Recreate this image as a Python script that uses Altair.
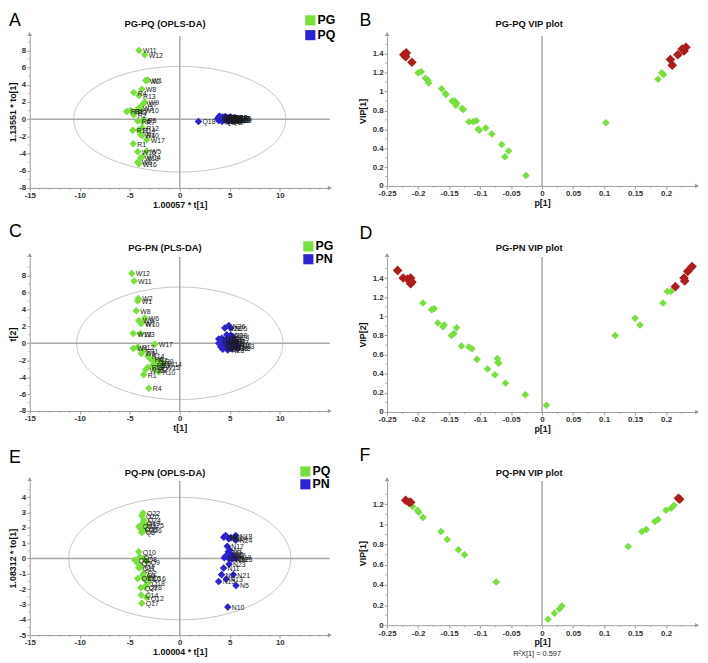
import altair as alt
import numpy as np
import pandas as pd

GREEN = "#77E03D"
BLUE = "#2B22D6"
RED = "#B01C1C"
AX = "#9c9c9c"
ZERO = "#a8a8a8"
FONT = "Liberation Sans"
LABEL = "replace(format(datum.value, '~g'), '\u2212', '-')"

# ---------------- Panel A : PG-PQ (OPLS-DA) ----------------
A_groups = ["PG", "PQ"]
A_g_names = ["W11", "W12", "W2", "W1", "W8", "R4", "R13", "W9", "W7", "W3", "R8", "R9", "R3", "R2", "W10", "R6",
             "R7", "R5", "R11", "R14", "R12", "W4", "R10", "W17", "R1", "W15", "W5", "W14", "W13", "W6", "W16"]
A_g_x = [-4.07, -3.5, -3.4, -3.2, -3.8, -4.6, -4.08, -3.5, -3.7, -4.1, -5.3, -4.9, -4.6, -4.6, -3.9, -4.2,
         -3.75, -3.6, -4.7, -4.1, -3.75, -3.9, -3.75, -3.3, -4.65, -4.2, -3.3, -3.7, -3.9, -4.2, -4.1]
A_g_y = [8.0, 7.5, 4.5, 4.55, 3.5, 3.1, 2.75, 2.0, 1.75, 1.3, 0.9, 1.0, 0.8, 0.53, 1.05, -0.2,
         -0.3, -0.1, -1.3, -1.25, -1.0, -1.8, -1.9, -2.4, -2.85, -3.8, -3.7, -4.35, -4.5, -5.0, -5.2]
A_b_names = ["Q18", "Q1", "Q2", "Q3", "Q4", "Q5", "Q6", "Q8", "Q9", "Q10", "Q11", "Q12", "Q13", "Q14", "Q15",
             "Q16", "Q17", "Q19", "Q20", "Q7", "Q21", "Q22", "Q23", "Q24", "Q25", "Q26", "Q27", "Q28", "Q29", "Q30"]
A_b_x = [1.87, 3.8, 3.9, 4.0, 4.1, 4.2, 4.3, 4.4, 4.5, 4.6, 4.7, 4.8, 4.9, 5.0, 5.1,
         5.2, 5.3, 5.4, 5.5, 5.6, 3.95, 4.25, 4.55, 4.85, 5.15, 5.45, 4.05, 4.65, 5.05, 5.35]
A_b_y = [-0.27, 0.1, -0.15, 0.3, 0.0, -0.2, 0.25, 0.1, -0.1, 0.2, 0.05, -0.15, 0.15, 0.0, 0.2,
         -0.1, 0.1, 0.0, -0.05, 0.15, 0.35, -0.25, 0.3, -0.2, -0.15, 0.1, 0.2, -0.05, 0.25, -0.1]
A_ellipse = [10.6, 6.15]

# ---------------- Panel C : PG-PN (PLS-DA) ----------------
C_groups = ["PG", "PN"]
C_g_names = ["W12", "W11", "W2", "W1", "W8", "W6", "W9", "W7", "W10", "W13", "W3", "W17", "W4", "R12", "W5", "R11",
             "R14", "R6", "R7", "R8", "R9", "R3", "W14", "W15", "R5", "R2", "R10", "R13", "W16", "R1", "R4"]
C_g_x = [-4.8, -4.57, -4.15, -4.2, -4.35, -3.5, -4.1, -3.9, -3.85, -4.65, -3.95, -2.5, -4.65, -4.2, -3.85, -3.75,
         -3.2, -2.9, -2.5, -2.2, -1.9, -2.3, -1.6, -1.8, -2.7, -2.5, -2.1, -3.2, -3.4, -3.6, -3.1]
C_g_y = [8.26, 7.36, 5.3, 5.0, 3.85, 3.0, 2.7, 2.45, 2.3, 1.15, 1.15, -0.12, -0.6, -0.45, -1.2, -0.95,
         -1.5, -1.9, -2.0, -2.3, -2.1, -2.6, -2.4, -2.75, -2.6, -3.0, -3.4, -2.85, -3.1, -3.7, -5.3]
C_b_names = ["N26", "N22", "N25", "N20", "N18", "N24", "N19", "N16", "N14", "N12", "N9", "N8", "N7", "N6",
             "N5", "N4", "N2", "N1", "N10", "N11", "N13", "N15", "N17", "N21", "N23", "N3", "N27", "N28"]
C_b_x = [4.9, 4.5, 5.1, 4.7, 5.1, 5.3, 3.9, 4.2, 4.5, 4.8, 5.0, 5.3, 5.6, 3.9,
         4.2, 4.4, 4.7, 5.0, 5.3, 5.6, 5.8, 4.1, 4.5, 4.9, 5.2, 5.8, 4.3, 4.8]
C_b_y = [2.1, 1.8, 1.8, 1.0, 0.95, 0.8, 0.5, 0.6, 0.4, 0.3, 0.5, 0.3, 0.2, 0.0,
         -0.1, 0.1, -0.2, 0.0, -0.1, -0.2, -0.3, -0.4, -0.5, -0.45, -0.6, -0.6, -0.7, -0.8]
C_ellipse = [10.3, 6.65]

# ---------------- Panel E : PQ-PN (OPLS-DA) ----------------
E_groups = ["PQ", "PN"]
E_g_names = ["Q22", "Q20", "Q24", "Q25", "Q21", "Q19", "Q23", "Q26", "Q3", "Q10", "Q6", "Q7", "Q8", "Q9",
             "Q5", "Q4", "Q11", "Q2", "Q1", "Q13", "Q15", "Q16", "Q18", "Q27", "Q28", "Q14", "Q12", "Q17"]
E_g_x = [-3.66, -3.8, -3.6, -3.3, -4.1, -3.7, -3.9, -3.5, -3.8, -4.1, -4.5, -4.0, -3.6, -3.3,
         -4.2, -3.9, -4.1, -3.6, -3.7, -4.2, -3.6, -3.1, -3.2, -3.9, -3.5, -3.85, -3.3, -3.8]
E_g_y = [2.97, 2.8, 2.5, 2.2, 2.1, 2.3, 1.95, 1.85, 1.7, 0.45, -0.1, 0.1, 0.0, -0.2,
         -0.3, -0.55, -0.6, -0.95, -1.1, -1.3, -1.3, -1.25, -1.6, -1.9, -1.85, -2.4, -2.55, -2.92]
E_b_names = ["N3", "N8", "N9", "N18", "N24", "N14", "N17", "N2", "N6", "N7", "N12", "N16", "N19",
             "N20", "N22", "N1", "N25", "N23", "N11", "N4", "N21", "N13", "N15", "N5", "N10"]
E_b_x = [4.4, 4.6, 4.9, 5.6, 5.6, 5.1, 4.75, 4.85, 5.1, 5.3, 4.45, 4.9, 5.5,
         4.65, 5.2, 5.0, 5.6, 4.93, 4.38, 4.18, 5.36, 4.64, 3.89, 5.62, 4.8]
E_b_y = [1.4, 1.5, 1.3, 1.5, 1.2, 1.35, 0.8, 0.45, 0.3, 0.2, 0.05, 0.0, 0.1,
         0.2, -0.05, 0.55, 0.0, -0.37, -0.62, -1.05, -1.05, -1.33, -1.5, -1.76, -3.16]
E_ellipse = [11.1, 4.0]

# ---------------- VIP panels ----------------
B_red_x = [-0.223, -0.22, -0.219, -0.221, -0.21, 0.207, 0.21, 0.219, 0.229, 0.232, 0.226]
B_red_y = [1.39, 1.37, 1.41, 1.38, 1.31, 1.34, 1.28, 1.39, 1.43, 1.47, 1.45]
B_green_x = [-0.2, -0.195, -0.188, -0.184, -0.183, -0.162, -0.156, -0.155, -0.145, -0.141, -0.138, -0.139,
             -0.129, -0.127, -0.118, -0.111, -0.106, -0.103, -0.101, -0.091, -0.081, -0.065, -0.06, -0.054,
             -0.026, 0.103, 0.187, 0.193, 0.196]
B_green_y = [1.2, 1.21, 1.14, 1.12, 1.09, 1.03, 0.98, 0.97, 0.9, 0.9, 0.88, 0.855,
             0.82, 0.81, 0.68, 0.68, 0.69, 0.6, 0.59, 0.615, 0.55, 0.44, 0.31, 0.37,
             0.11, 0.67, 1.13, 1.2, 1.18]

D_red_x = [-0.233, -0.224, -0.217, -0.212, -0.21, -0.212, 0.215, 0.229, 0.23, 0.235, 0.242]
D_red_y = [1.48, 1.4, 1.39, 1.4, 1.36, 1.34, 1.31, 1.4, 1.37, 1.47, 1.52]
D_green_x = [-0.192, -0.178, -0.174, -0.168, -0.16, -0.158, -0.146, -0.142, -0.138, -0.13, -0.118, -0.113,
             -0.105, -0.088, -0.076, -0.072, -0.071, -0.07, -0.059, -0.027, 0.007, 0.118, 0.15, 0.158,
             0.195, 0.202, 0.208]
D_green_y = [1.14, 1.07, 1.08, 0.93, 0.89, 0.91, 0.8, 0.82, 0.88, 0.69, 0.68, 0.66,
             0.55, 0.45, 0.39, 0.56, 0.52, 0.51, 0.3, 0.18, 0.07, 0.8, 0.98, 0.91,
             1.14, 1.26, 1.26]

F_red_x = [-0.22, -0.215, -0.212, 0.22, 0.222]
F_red_y = [1.24, 1.22, 1.22, 1.26, 1.25]
F_green_x = [-0.209, -0.201, -0.199, -0.192, -0.163, -0.153, -0.135, -0.125, -0.074, 0.0095, 0.02,
             0.028, 0.032, 0.139, 0.161, 0.168, 0.182, 0.187, 0.2, 0.208, 0.213]
F_green_y = [1.18, 1.14, 1.12, 1.07, 0.93, 0.85, 0.75, 0.7, 0.43, 0.06, 0.12,
             0.16, 0.19, 0.78, 0.93, 0.95, 1.03, 1.05, 1.14, 1.16, 1.19]

# tick values
SCORE_X_TICKS = [-15, -10, -5, 0, 5, 10]
SCORE_X_MINOR = [-14, -13, -12, -11, -9, -8, -7, -6, -4, -3, -2, -1, 1, 2, 3, 4, 6, 7, 8, 9, 11, 12, 13, 14]
AC_Y_TICKS = [-8, -6, -4, -2, 0, 2, 4, 6, 8]
AC_Y_MINOR = [-7, -5, -3, -1, 1, 3, 5, 7, 9]
E_Y_TICKS = [-5, -4, -3, -2, -1, 0, 1, 2, 3, 4]
E_Y_MINOR = [-4.5, -3.5, -2.5, -1.5, -0.5, 0.5, 1.5, 2.5, 3.5, 4.5]
VIP_X_TICKS = [-0.25, -0.2, -0.15, -0.1, -0.05, 0, 0.05, 0.1, 0.15, 0.2]
VIP_X_MINOR = [-0.225, -0.175, -0.125, -0.075, -0.025, 0.025, 0.075, 0.125, 0.175, 0.225]
VIP_Y_TICKS = [0, 0.2, 0.4, 0.6, 0.8, 1, 1.2, 1.4]
VIP_Y_MINOR = [0.1, 0.3, 0.5, 0.7, 0.9, 1.1, 1.3, 1.5]

WL, WR = 304, 314
ONE = pd.DataFrame({"k": [0]})


def axis(values, title, tpad, lpad=1):
    return alt.Axis(values=values, title=title, labelExpr=LABEL, tickSize=3, labelPadding=lpad,
                    titlePadding=tpad, domainColor=AX, tickColor=AX, labelColor="#333",
                    labelFontSize=8, labelFontWeight="bold", labelFont=FONT, titleFont=FONT,
                    titleFontSize=9, titleFontWeight="bold", titleColor="#111", grid=False,
                    labelFlush=False, labelOverlap=False)


def decorations(W, H, xenc, yenc, xminor, yminor, letter, lx, ly, title, tx, ty):
    mx = pd.DataFrame({"x": xminor})
    my = pd.DataFrame({"y": yminor})
    return [
        alt.Chart(mx).mark_tick(orient="vertical", size=2, thickness=1, color=AX).encode(
            x=xenc("x:Q"), y=alt.value(H + 1)),
        alt.Chart(my).mark_tick(orient="horizontal", size=2, thickness=1, color=AX).encode(
            y=yenc("y:Q"), x=alt.value(-1)),
        alt.Chart(ONE).mark_point(shape="triangle-right", filled=True, size=22, color=AX, opacity=1).encode(
            x=alt.value(W), y=alt.value(H)),
        alt.Chart(ONE).mark_point(shape="triangle-up", filled=True, size=22, color=AX, opacity=1).encode(
            x=alt.value(0), y=alt.value(-2)),
        alt.Chart(ONE).mark_text(text=title, font=FONT, fontSize=9.5, fontWeight="bold", align="center",
                                 baseline="alphabetic", color="#111").encode(x=alt.value(tx), y=alt.value(ty)),
        alt.Chart(ONE).mark_text(text=letter, font=FONT, fontSize=18, align="left", baseline="top",
                                 color="#000").encode(x=alt.value(lx), y=alt.value(ly)),
    ]


def score_panel(letter, title, xtitle, ytitle, groups, gn, gx, gy, bn, bx, by, ell, ydom, yticks, yminor,
                H, legend_xy, row_pad, title_y, letter_y):
    W = WL
    xs = alt.Scale(domain=[-15, 15], nice=False, zero=False)
    ys = alt.Scale(domain=ydom, nice=False, zero=False)
    xa = axis(SCORE_X_TICKS, xtitle, 1)
    ya = axis(yticks, ytitle, 1)

    def xenc(f):
        return alt.X(f, scale=xs, axis=xa)

    def yenc(f):
        return alt.Y(f, scale=ys, axis=ya)

    pts = pd.DataFrame({
        "x": gx + bx, "y": gy + by, "name": gn + bn,
        "grp": [groups[0]] * len(gx) + [groups[1]] * len(bx),
    })
    t = np.linspace(0, 2 * np.pi, 241)
    ed = pd.DataFrame({"x": ell[0] * np.cos(t), "y": ell[1] * np.sin(t), "i": np.arange(len(t))})
    zd = pd.DataFrame({"x": [0.0], "y": [0.0]})
    ellipse = alt.Chart(ed).mark_line(color="#c4c4c4", strokeWidth=1).encode(
        x=xenc("x:Q"), y=yenc("y:Q"), order="i:Q")
    zx = alt.Chart(zd).mark_rule(color=ZERO, strokeWidth=1.5).encode(x=xenc("x:Q"))
    zy = alt.Chart(zd).mark_rule(color=ZERO, strokeWidth=1.5).encode(y=yenc("y:Q"))
    points = alt.Chart(pts).mark_point(shape="diamond", filled=True, size=58, opacity=1).encode(
        x=xenc("x:Q"), y=yenc("y:Q"),
        color=alt.Color("grp:N", scale=alt.Scale(domain=groups, range=[GREEN, BLUE]),
                        legend=alt.Legend(orient="none", legendX=legend_xy[0], legendY=legend_xy[1],
                                          title=None, symbolType="square", symbolSize=105,
                                          symbolStrokeWidth=0, symbolOpacity=1, labelFont=FONT,
                                          labelFontSize=12.5, labelFontWeight="bold", labelColor="#000",
                                          labelOffset=1, rowPadding=row_pad, padding=0)),
    )
    labels = alt.Chart(pts).mark_text(align="left", baseline="middle", dx=4, dy=1, fontSize=7,
                                      font=FONT, color="#1a1a1a").encode(
        x=xenc("x:Q"), y=yenc("y:Q"), text="name:N")
    deco = decorations(W, H, xenc, yenc, SCORE_X_MINOR, yminor, letter, -21, letter_y, title, 137, title_y)
    return alt.layer(ellipse, zx, zy, points, labels, *deco).properties(width=W, height=H)


def vip_panel(letter, title, ytitle, rx, ry, gx, gy, ydom, yticks, H, title_y, letter_y, caption=None):
    W = WR
    xs = alt.Scale(domain=[-0.25, 0.25], nice=False, zero=False)
    ys = alt.Scale(domain=ydom, nice=False, zero=False)
    xa = axis(VIP_X_TICKS, "p[1]", 1)
    ya = axis(yticks, ytitle, 5)

    def xenc(f):
        return alt.X(f, scale=xs, axis=xa)

    def yenc(f):
        return alt.Y(f, scale=ys, axis=ya)

    gd = pd.DataFrame({"x": gx, "y": gy})
    rd = pd.DataFrame({"x": rx, "y": ry})
    zd = pd.DataFrame({"x": [0.0]})
    zx = alt.Chart(zd).mark_rule(color=ZERO, strokeWidth=1.5).encode(x=xenc("x:Q"))
    green = alt.Chart(gd).mark_point(shape="diamond", filled=True, size=58, opacity=1, color=GREEN).encode(
        x=xenc("x:Q"), y=yenc("y:Q"))
    red = alt.Chart(rd).mark_point(shape="diamond", filled=True, size=95, opacity=1, color=RED).encode(
        x=xenc("x:Q"), y=yenc("y:Q"))
    yminor = [v for v in VIP_Y_MINOR if v < ydom[1]]
    deco = decorations(W, H, xenc, yenc, VIP_X_MINOR, yminor, letter, -28, letter_y, title, 144, title_y)
    layers = [zx, green, red] + deco
    if caption:
        layers.append(alt.Chart(ONE).mark_text(text=caption, font=FONT, fontSize=7.5, align="center",
                                               baseline="alphabetic", color="#222").encode(
            x=alt.value(152), y=alt.value(H + 31)))
    return alt.layer(*layers).properties(width=W, height=H)


A = score_panel("A", "PG-PQ (OPLS-DA)", "1.00057 * t[1]", "1.13551 * to[1]", A_groups,
                A_g_names, A_g_x, A_g_y, A_b_names, A_b_x, A_b_y, A_ellipse, [-8, 9.7], AC_Y_TICKS,
                AC_Y_MINOR, 154, (278, -22), 2, -9, -24)
B = vip_panel("B", "PG-PQ VIP plot", "VIP[1]", B_red_x, B_red_y, B_green_x, B_green_y, [0, 1.59],
              VIP_Y_TICKS, 152, -9, -24)
C = score_panel("C", "PG-PN (PLS-DA)", "t[1]", "t[2]", C_groups,
                C_g_names, C_g_x, C_g_y, C_b_names, C_b_x, C_b_y, C_ellipse, [-8, 10.2], AC_Y_TICKS,
                AC_Y_MINOR, 156, (276, -17), -2, -6, -34)
D = vip_panel("D", "PG-PN VIP plot", "VIP[2]", D_red_x, D_red_y, D_green_x, D_green_y, [0, 1.62],
              VIP_Y_TICKS, 157, -6, -32)
E = score_panel("E", "PQ-PN (OPLS-DA)", "1.00004 * t[1]", "1.08312 * to[1]", E_groups,
                E_g_names, E_g_x, E_g_y, E_b_names, E_b_x, E_b_y, E_ellipse, [-5, 5.06], E_Y_TICKS,
                E_Y_MINOR, 156, (273, -16), -2, -5, -32)
F = vip_panel("F", "PQ-PN VIP plot", "VIP[1]", F_red_x, F_red_y, F_green_x, F_green_y, [0, 1.43],
              [0, 0.2, 0.4, 0.6, 0.8, 1, 1.2], 146, -5, -34, caption="R\u00b2X[1] = 0.597")

chart = (
    alt.concat(A, B, C, D, E, F, columns=2, bounds="flush", spacing={"row": 70, "column": 58})
    .resolve_scale(color="independent")
    .properties(padding={"left": 0, "right": 0, "top": 0, "bottom": 0})
    .configure_view(stroke=None)
)

chart.save("out.html", embed_options={"renderer": "svg", "actions": False})
